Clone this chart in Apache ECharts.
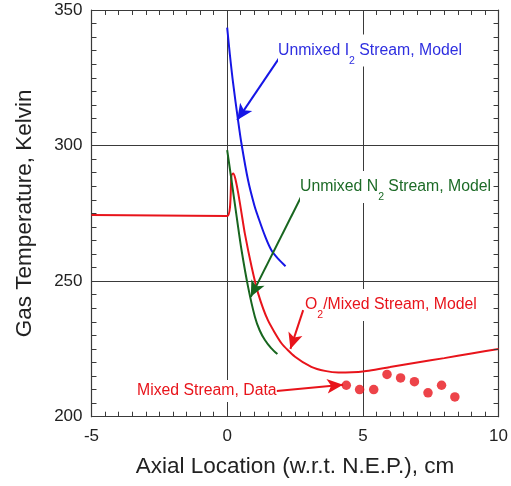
<!DOCTYPE html>
<html>
<head>
<meta charset="utf-8">
<script src="https://cdn.jsdelivr.net/npm/echarts@6/dist/echarts.min.js"></script>
<style>
  html, body { margin: 0; padding: 0; background: #ffffff; }
  #chart { width: 511px; height: 486px; }
</style>
</head>
<body>
<div id="chart"></div>
<script>
// Axial location (cm, w.r.t. N.E.P.) and gas temperature (K) for each stream
const mixedModelX = [-5, -2.5, 0, 0.16, 0.22, 0.3, 0.41, 0.53, 0.65, 0.9, 1.14, 1.5, 2.0, 2.5, 3.1, 3.6, 4.1, 4.6, 5.0, 6.0, 7.0, 8.0, 9.0, 10];
const mixedModelT = [274.4, 274.2, 274.0, 289.1, 289.7, 287.8, 282.3, 275.0, 267.6, 255.3, 245.5, 235.6, 227.1, 222.1, 218.4, 216.9, 216.3, 216.4, 216.7, 218.3, 220.0, 221.6, 223.3, 225.0];

const iodineModelX = [0, 0.1, 0.22, 0.4, 0.53, 0.77, 1.0, 1.14, 1.4, 1.63, 1.9, 2.15];
const iodineModelT = [343.5, 333.5, 322.9, 309.4, 300.5, 287.2, 278.0, 273.7, 266.5, 261.4, 258.0, 255.5];

const nitrogenModelX = [0, 0.16, 0.35, 0.53, 0.77, 1.02, 1.2, 1.39, 1.62, 1.85];
const nitrogenModelT = [298.3, 287.2, 273.7, 261.4, 247.9, 236.9, 231.8, 228.3, 225.3, 223.1];

const mixedDataX = [4.39, 4.88, 5.40, 5.89, 6.39, 6.90, 7.40, 7.90, 8.39];
const mixedDataT = [211.6, 210.0, 210.0, 215.6, 214.3, 212.9, 208.8, 211.6, 207.3];

// Axis ranges and tick steps
const xRange = [-5, 10];
const yRange = [200, 350];
const xMajor = 5, xMinor = 0.5;
const yMajor = 50, yMinor = 5;
// Length of the small frame ticks, in axis units (about 5 px each way)
const xTickLen = 0.184;
const yTickLen = 1.84;

// Annotation arrows: [tail, head] in data coordinates
const iodineArrow = [[1.97, 333.1], [0.37, 309.4]];
const nitrogenArrow = [[2.80, 282.6], [0.87, 244.2]];
const mixedModelArrow = [[2.80, 239.3], [2.33, 225.0]];
const mixedDataArrow = [[1.82, 209.5], [4.27, 211.8]];

const RED = '#e8141b';
const BLUE = '#1616e6';
const GREEN = '#18661f';
const FONT = 'Liberation Sans, Arial, sans-serif';
const AXIS = '#3a3a3a';

const zip = (xs, ys) => xs.map((x, i) => [x, ys[i]]);

// Positions of the small ticks along the frame, stepping through each axis range
function tickPositions(range, step) {
  const out = [];
  const n = Math.round((range[1] - range[0]) / step);
  for (let i = 0; i <= n; i++) out.push(+(range[0] + i * step).toFixed(6));
  return out;
}

// Short inward segments on all four edges of the frame
function frameTickSegments() {
  const segs = [];
  tickPositions(xRange, xMinor).forEach(v => {
    segs.push([{ coord: [v, yRange[0]] }, { coord: [v, yRange[0] + yTickLen] }]);
    segs.push([{ coord: [v, yRange[1]] }, { coord: [v, yRange[1] - yTickLen] }]);
  });
  tickPositions(yRange, yMinor).forEach(v => {
    segs.push([{ coord: [xRange[0], v] }, { coord: [xRange[0] + xTickLen, v] }]);
    segs.push([{ coord: [xRange[1], v] }, { coord: [xRange[1] - xTickLen, v] }]);
  });
  return segs;
}

function arrow(pts, color) {
  return {
    silent: true,
    symbol: ['none', 'arrow'],
    symbolSize: [11, 16],
    label: { show: false },
    lineStyle: { color: color, width: 2, type: 'solid' },
    data: [[{ coord: pts[0] }, { coord: pts[1] }]]
  };
}

function mainAxis(range, step, name, gap, margin) {
  return {
    type: 'value', min: range[0], max: range[1], interval: step,
    name: name, nameLocation: 'middle', nameGap: gap,
    nameTextStyle: { fontFamily: FONT, fontSize: 22.5, color: '#222' },
    axisLine: { show: true, onZero: false, lineStyle: { color: AXIS, width: 1.2 } },
    axisTick: { show: false },
    axisLabel: { fontFamily: FONT, fontSize: 17, color: '#222', margin: margin },
    splitLine: { show: true, lineStyle: { color: AXIS, width: 1 } }
  };
}

// Frame edge on the opposite side (line only)
function edgeAxis(range, step, position) {
  return {
    type: 'value', min: range[0], max: range[1], interval: step, position: position,
    axisLine: { show: true, onZero: false, lineStyle: { color: AXIS, width: 1.2 } },
    axisTick: { show: false }, axisLabel: { show: false }, splitLine: { show: false }
  };
}

function labelText(main, sub, rest, color, x, y) {
  return {
    type: 'text', x: x, y: y, z: 10,
    style: {
      text: '{a|' + main + '}{s|' + sub + '}{a|' + rest + '}',
      fill: color, backgroundColor: '#ffffff', align: 'left', verticalAlign: 'middle',
      rich: {
        a: { fontFamily: FONT, fontSize: 15.8, lineHeight: 32, fill: color },
        s: { fontFamily: FONT, fontSize: 10.5, lineHeight: 10, verticalAlign: 'bottom', fill: color }
      }
    }
  };
}

const chart = echarts.init(document.getElementById('chart'), null, { renderer: 'canvas' });

chart.setOption({
  animation: false,
  grid: { left: 91.5, right: 12, top: 10, bottom: 69.3 },
  xAxis: [
    mainAxis(xRange, xMajor, 'Axial Location (w.r.t. N.E.P.), cm', 39, 11),
    edgeAxis(xRange, xMajor, 'top')
  ],
  yAxis: [
    mainAxis(yRange, yMajor, 'Gas Temperature, Kelvin', 55, 9),
    edgeAxis(yRange, yMajor, 'right')
  ],
  series: [
    {
      name: 'frame ticks', type: 'line', data: [[xRange[0], yRange[0]]],
      showSymbol: false, silent: true, lineStyle: { width: 0 }, z: 2,
      markLine: {
        silent: true, animation: false, symbol: ['none', 'none'],
        label: { show: false },
        lineStyle: { color: AXIS, width: 1, type: 'solid' },
        data: frameTickSegments()
      }
    },
    {
      name: 'O2/Mixed Stream, Model', type: 'line', data: zip(mixedModelX, mixedModelT),
      showSymbol: false, smooth: 0.2,
      lineStyle: { color: RED, width: 2 }, z: 3,
      markLine: arrow(mixedModelArrow, RED)
    },
    {
      name: 'Unmixed I2 Stream, Model', type: 'line', data: zip(iodineModelX, iodineModelT),
      showSymbol: false, smooth: 0.3,
      lineStyle: { color: BLUE, width: 2 }, z: 3,
      markLine: arrow(iodineArrow, BLUE)
    },
    {
      name: 'Unmixed N2 Stream, Model', type: 'line', data: zip(nitrogenModelX, nitrogenModelT),
      showSymbol: false, smooth: 0.3,
      lineStyle: { color: GREEN, width: 2 }, z: 3,
      markLine: arrow(nitrogenArrow, GREEN)
    },
    {
      name: 'Mixed Stream, Data', type: 'scatter', data: zip(mixedDataX, mixedDataT),
      symbol: 'circle', symbolSize: 9.5, itemStyle: { color: RED }, z: 4,
      markLine: arrow(mixedDataArrow, RED)
    }
  ],
  graphic: [
    labelText('Unmixed I', '2', ' Stream, Model', '#2f2fe0', 278, 50.5),
    labelText('Unmixed N', '2', ' Stream, Model', '#1d6b27', 300, 187),
    labelText('O', '2', '/Mixed Stream, Model', RED, 305, 305),
    {
      type: 'text', x: 137, y: 391, z: 10,
      style: {
        text: 'Mixed Stream, Data',
        font: '15.8px ' + FONT, fill: RED, backgroundColor: '#ffffff',
        padding: [3, 0, 3, 0], align: 'left', verticalAlign: 'middle'
      }
    }
  ]
});
</script>
</body>
</html>
